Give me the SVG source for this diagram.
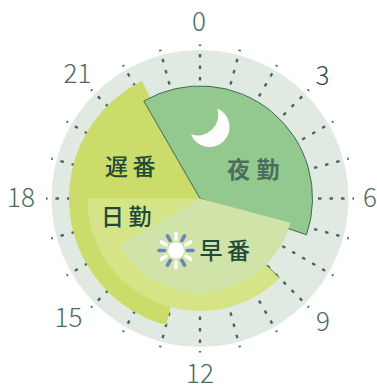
<svg xmlns="http://www.w3.org/2000/svg" xmlns:xlink="http://www.w3.org/1999/xlink" width="377" height="386" viewBox="0 0 377 386">
<style>
.num{font-family:"Noto Sans CJK JP","Noto Sans",sans-serif;font-weight:300;font-size:26px;fill:#4a6d5c;text-anchor:middle}
.dark{fill:#2a5042}
.shift{font-family:"Noto Sans CJK JP",sans-serif;font-size:23px;fill:#1f4a3a;font-weight:500;letter-spacing:4.4px}
.tick{stroke:#48695a;stroke-width:2.4;stroke-dasharray:3.5 8;fill:none}
.ray{stroke-width:3.6;stroke-linecap:round;fill:none}
</style>
<defs><line id="t" class="tick" x1="0" y1="-95" x2="0" y2="-154"/></defs>
<rect width="377" height="386" fill="#fff"/>
<circle id="ring" cx="200" cy="198.5" r="148.5" fill="#e0eae2"/>
<g id="connectors" transform="translate(200 198.5)">
<use href="#t" transform="rotate(0)"/><use href="#t" transform="rotate(15)"/><use href="#t" transform="rotate(30)"/><use href="#t" transform="rotate(45)"/><use href="#t" transform="rotate(60)"/><use href="#t" transform="rotate(75)"/><use href="#t" transform="rotate(90)"/><use href="#t" transform="rotate(105)"/><use href="#t" transform="rotate(120)"/><use href="#t" transform="rotate(135)"/><use href="#t" transform="rotate(150)"/><use href="#t" transform="rotate(165)"/><use href="#t" transform="rotate(180)"/><use href="#t" transform="rotate(195)"/><use href="#t" transform="rotate(210)"/><use href="#t" transform="rotate(225)"/><use href="#t" transform="rotate(240)"/><use href="#t" transform="rotate(255)"/><use href="#t" transform="rotate(270)"/><use href="#t" transform="rotate(285)"/><use href="#t" transform="rotate(300)"/><use href="#t" transform="rotate(315)"/><use href="#t" transform="rotate(330)"/><use href="#t" transform="rotate(345)"/>
</g>
<g id="late"><path d="M200 198.5L166.1 325A131 131 0 0 1 142 81Z" fill="#cbdc6a"/></g>
<g id="day"><path d="M200 198.5L279.6 278.1A112.5 112.5 0 0 1 87.5 198.5Z" fill="#d6e488"/><line x1="266.5" y1="265" x2="279.6" y2="278.1" stroke="#3f6b57" stroke-width=".8"/></g>
<g id="night"><path d="M200 198.5L143.8 101A112.5 112.5 0 0 1 306.5 234.8Z" fill="#93c98e" stroke="#3f6b57" stroke-width="1"/></g>
<g id="early"><path d="M200 198.5L290.3 222.7A93.5 93.5 0 0 1 119 245.2Z" fill="#d0e3a8"/></g>
<g id="moon"><path d="M217.3 108.5A20 20 0 1 1 191 134.2A20.5 20.5 0 0 0 217.3 108.5Z" fill="#fff"/></g>
<g id="sun" transform="translate(176 250.5)">
<circle r="8" fill="#fff"/>
<g class="ray" stroke="#fff"><line y1="-11.5" y2="-17" transform="rotate(0)"/><line y1="-11.5" y2="-17" transform="rotate(60)"/><line y1="-11.5" y2="-17" transform="rotate(120)"/><line y1="-11.5" y2="-17" transform="rotate(180)"/><line y1="-11.5" y2="-17" transform="rotate(240)"/><line y1="-11.5" y2="-17" transform="rotate(300)"/></g>
<g class="ray" stroke="#6b82c4"><line y1="-11.5" y2="-17" transform="rotate(30)"/><line y1="-11.5" y2="-17" transform="rotate(90)"/><line y1="-11.5" y2="-17" transform="rotate(150)"/><line y1="-11.5" y2="-17" transform="rotate(210)"/><line y1="-11.5" y2="-17" transform="rotate(270)"/><line y1="-11.5" y2="-17" transform="rotate(330)"/></g>
</g>
<g id="labels">
<text class="shift" x="105" y="174.5">遅番</text>
<text class="shift" x="227" y="177.5" style="fill:#4a6d5c;font-weight:700;letter-spacing:6.5px">夜勤</text>
<text class="shift" x="101" y="224.5">日勤</text>
<text class="shift" x="199.5" y="258.5">早番</text>
<text class="num" x="199" y="30.5">0</text>
<text class="num dark" x="322.5" y="84.5">3</text>
<text class="num" x="370" y="206.5">6</text>
<text class="num" x="323" y="330.5">9</text>
<text class="num" x="200" y="383">12</text>
<text class="num" x="68.5" y="326.5">15</text>
<text class="num" x="21" y="206.5">18</text>
<text class="num" x="77.5" y="82.5">21</text>
</g>
</svg>
